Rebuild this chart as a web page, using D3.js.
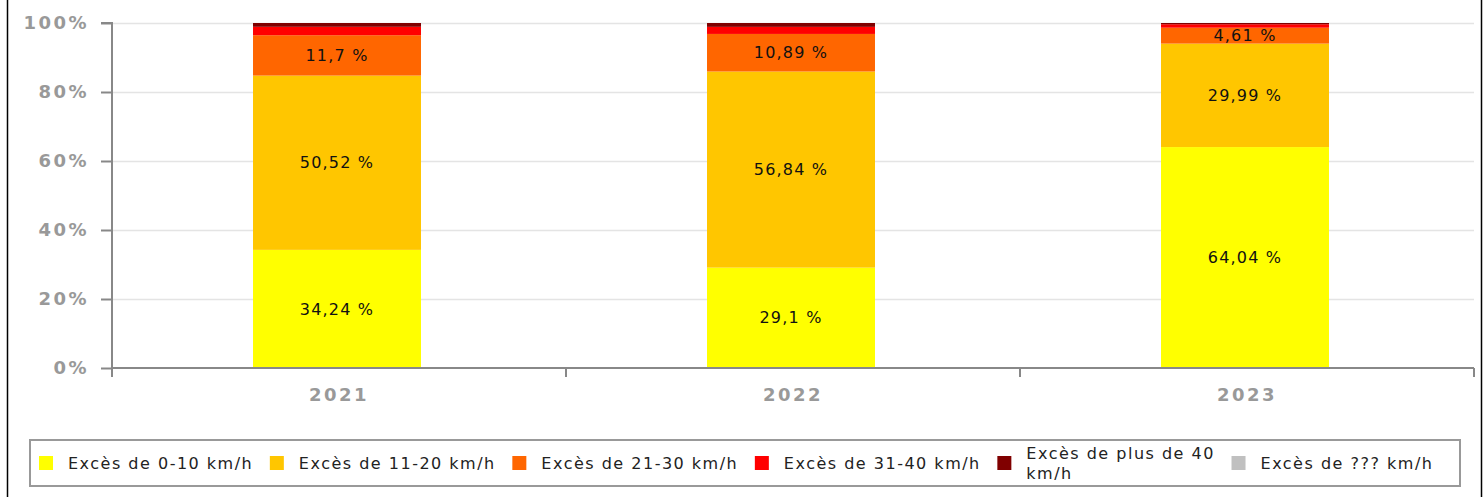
<!DOCTYPE html>
<html>
<head>
<meta charset="utf-8">
<script src="https://cdn.jsdelivr.net/npm/d3@7"></script>
<style>
  body { margin: 0; background: #fff; }
  svg { display: block; font-family: "DejaVu Sans", sans-serif; }
</style>
</head>
<body>
<div id="chart"></div>
<script>
// data
var years = ["2021", "2022", "2023"];
var series = ["Excès de 0-10 km/h", "Excès de 11-20 km/h", "Excès de 21-30 km/h",
              "Excès de 31-40 km/h", "Excès de plus de 40 km/h", "Excès de ??? km/h"];
var colors = ["#ffff00", "#ffc600", "#ff6600", "#ff0000", "#800000", "#c0c0c0"];
var v0_10  = [34.24, 29.1, 64.04];
var v11_20 = [50.52, 56.84, 29.99];
var v21_30 = [11.7, 10.89, 4.61];
var v31_40 = [2.44, 2.05, 1.0];
var v40    = [1.1, 1.12, 0.36];
var vUnk   = [0, 0, 0];
var yTicks = [0, 20, 40, 60, 80, 100];

var W = 1484, H = 497;
var margin = {top: 23, right: 10, bottom: 129, left: 112};

var keys = ["s0", "s1", "s2", "s3", "s4", "s5"];
var vals = [v0_10, v11_20, v21_30, v31_40, v40, vUnk];
var rows = years.map(function(y, i) {
  var r = {year: y};
  keys.forEach(function(k, j) { r[k] = vals[j][i]; });
  return r;
});
var stacked = d3.stack().keys(keys)(rows);

var svg = d3.select("#chart").append("svg").attr("width", W).attr("height", H);

// outer border lines
svg.append("line").attr("x1", 7.5).attr("x2", 7.5).attr("y1", 0).attr("y2", H)
  .attr("stroke", "#000").attr("stroke-width", 1.5);
svg.append("line").attr("x1", 1481.5).attr("x2", 1481.5).attr("y1", 0).attr("y2", H)
  .attr("stroke", "#000").attr("stroke-width", 1.5);

var x = d3.scaleBand().domain(years).range([margin.left, W - margin.right]).paddingInner(0);
var y = d3.scaleLinear().domain([0, 100]).range([H - margin.bottom, margin.top]);
// the bars take about 37% of each category, sitting a little left of centre
var barW = x.bandwidth() * 0.37;
var barShift = -2;

// grid
svg.append("g").selectAll("line").data(yTicks.filter(function(t) { return t > 0; })).enter()
  .append("line")
  .attr("x1", margin.left).attr("x2", W - margin.right)
  .attr("y1", function(d) { return Math.round(y(d)) + 0.5; })
  .attr("y2", function(d) { return Math.round(y(d)) + 0.5; })
  .attr("stroke", "#e4e4e4").attr("stroke-width", 1.5);

// bars
var g = svg.append("g");
stacked.forEach(function(layer, li) {
  g.selectAll(".b" + li).data(layer).enter().append("rect")
    .attr("x", function(d) { return x(d.data.year) + (x.bandwidth() - barW) / 2 + barShift; })
    .attr("width", barW)
    .attr("y", function(d) { return y(d[1]); })
    .attr("height", function(d) { return Math.max(0, y(d[0]) - y(d[1])); })
    .attr("fill", colors[li]);
});

// labels
var fmt = function(v) { return String(v).replace(".", ",") + " %"; };
stacked.forEach(function(layer, li) {
  var k = layer.key;
  g.selectAll(".l" + li).data(layer.filter(function(d) { return d.data[k] > 4; })).enter()
    .append("text")
    .attr("x", function(d) { return x(d.data.year) + x.bandwidth() / 2 + barShift; })
    .attr("y", function(d) { return (y(d[0]) + y(d[1])) / 2; })
    .attr("dy", "0.35em")
    .attr("text-anchor", "middle")
    .attr("font-size", 16)
    .attr("letter-spacing", 1.2)
    .attr("fill", "#111")
    .text(function(d) { return fmt(d.data[k]); });
});

// y axis
var yAxis = svg.append("g").attr("transform", "translate(" + margin.left + ",0)")
  .call(d3.axisLeft(y).tickValues(yTicks).tickSize(11).tickPadding(12)
    .tickFormat(function(d) { return d + "%"; }));
yAxis.select(".domain").attr("stroke", "#888").attr("stroke-width", 2)
  .attr("d", "M-11," + y(100) + "H0V" + (y(0) + 9));
yAxis.selectAll(".tick line").attr("stroke", "#888").attr("stroke-width", 2);
yAxis.selectAll(".tick text").attr("fill", "#999").attr("font-size", 18)
  .attr("font-weight", "bold").attr("letter-spacing", 2.5)
  .attr("font-family", "DejaVu Sans, sans-serif");

// x axis
var xAxis = svg.append("g").attr("transform", "translate(0," + y(0) + ")");
xAxis.append("line").attr("x1", margin.left).attr("x2", W - margin.right)
  .attr("stroke", "#888").attr("stroke-width", 2);
var bounds = years.map(function(d) { return x(d) + x.bandwidth(); });
xAxis.selectAll(".xt").data(bounds).enter().append("line")
  .attr("x1", function(d) { return d; }).attr("x2", function(d) { return d; })
  .attr("y1", 0).attr("y2", 9).attr("stroke", "#888").attr("stroke-width", 2);
xAxis.selectAll(".xl").data(years).enter().append("text")
  .attr("x", function(d) { return x(d) + x.bandwidth() / 2; })
  .attr("y", 33)
  .attr("text-anchor", "middle")
  .attr("font-size", 18).attr("font-weight", "bold").attr("letter-spacing", 2.5)
  .attr("fill", "#999")
  .text(function(d) { return d; });

// legend
var leg = svg.append("g");
leg.append("rect").attr("x", 30).attr("y", 440).attr("width", 1430).attr("height", 46)
  .attr("fill", "#fff").attr("stroke", "#999").attr("stroke-width", 2);
var lx = 39, maxW = 200;
series.forEach(function(name, i) {
  var it = leg.append("g");
  it.append("rect").attr("x", lx).attr("y", 456).attr("width", 14).attr("height", 14)
    .attr("fill", colors[i]);
  var t = it.append("text").attr("x", lx + 29).attr("y", 469)
    .attr("font-size", 16).attr("letter-spacing", 1.5).attr("fill", "#222").text(name);
  var w = t.node().getComputedTextLength();
  if (w > maxW) {
    // wrap onto two lines
    var words = name.split(" ");
    var last = words.pop();
    t.text(null);
    t.append("tspan").attr("x", lx + 29).attr("y", 459).text(words.join(" "));
    t.append("tspan").attr("x", lx + 29).attr("y", 479).text(last);
    w = t.node().getBBox().width;
  }
  lx += 29 + w + 16.6;
});
</script>
</body>
</html>
